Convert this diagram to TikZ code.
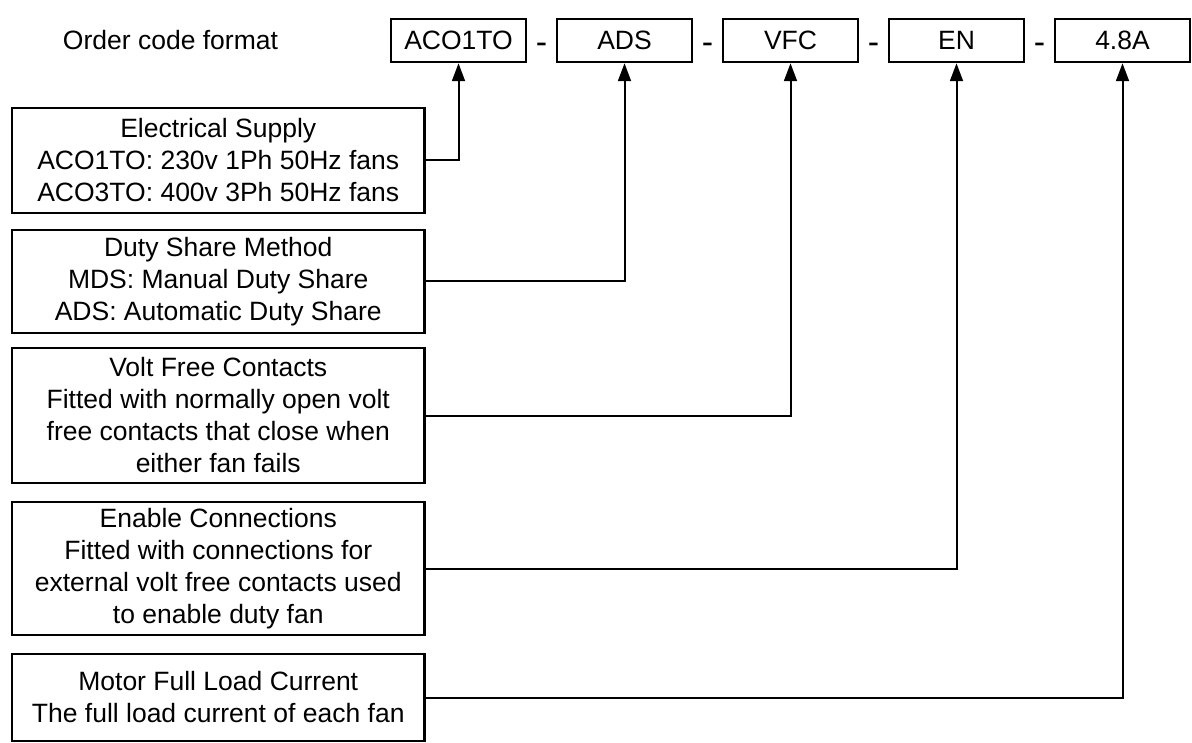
\documentclass[tikz,border=0pt]{standalone}
\usepackage{fontspec}
\setmainfont{Liberation Sans}
\usetikzlibrary{arrows.meta}
\begin{document}
\begin{tikzpicture}[x=1pt,y=-1pt,
  every node/.style={font=\fontsize{26.5}{32}\selectfont},
  codebox/.style={draw=black,line width=2.5pt,rectangle,minimum width=135pt,minimum height=43pt,inner sep=0pt},
  descbox/.style={draw=black,line width=2.5pt,rectangle,minimum width=412.5pt,inner sep=0pt,align=center},
  hyph/.style={inner sep=0pt,anchor=base},
  bighyph/.style={inner sep=0pt,anchor=base,font=\fontsize{34}{34}\selectfont},
  conn/.style={draw=black,line width=2pt,-{Triangle[length=18pt,width=13pt]}}
]
\useasboundingbox (0,0) rectangle (1192,743);
\node[hyph] (title) at (170.5,50) {Order code format};
\node[codebox] (c1) at (458.5,40.5) {ACO1TO};
\node[codebox] (c2) at (624.5,40.5) {ADS};
\node[codebox] (c3) at (790.5,40.5) {VFC};
\node[codebox] (c4) at (956.5,40.5) {EN};
\node[codebox] (c5) at (1122.5,40.5) {4.8A};
\node[bighyph] (h1) at (541.5,54) {-};
\node[bighyph] (h2) at (707.5,54) {-};
\node[bighyph] (h3) at (873.5,54) {-};
\node[bighyph] (h4) at (1039.5,54) {-};
\node[descbox,minimum height=105pt] (d1) at (218.25,160.5) {Electrical Supply\\ACO1TO: 230v 1Ph 50Hz fans\\ACO3TO: 400v 3Ph 50Hz fans};
\node[descbox,minimum height=103pt] (d2) at (218.25,281.5) {Duty Share Method\\MDS: Manual Duty Share\\ADS: Automatic Duty Share};
\node[descbox,minimum height=135pt] (d3) at (218.25,415.5) {Volt Free Contacts\\Fitted with normally open volt\\free contacts that close when\\either fan fails};
\node[descbox,minimum height=133pt] (d4) at (218.25,568.5) {Enable Connections\\Fitted with connections for\\external volt free contacts used\\to enable duty fan};
\node[descbox,minimum height=87pt] (d5) at (218.25,697.5) {Motor Full Load Current\\The full load current of each fan};
\draw[conn] (d1.east) -| (c1.south);
\draw[conn] (d2.east) -| (c2.south);
\draw[conn] (d3.east) -| (c3.south);
\draw[conn] (d4.east) -| (c4.south);
\draw[conn] (d5.east) -| (c5.south);
\end{tikzpicture}
\end{document}
